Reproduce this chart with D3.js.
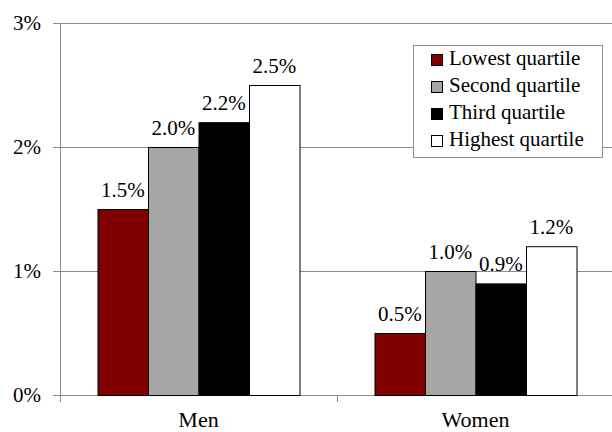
<!DOCTYPE html>
<html>
<head>
<meta charset="utf-8">
<script src="https://cdn.jsdelivr.net/npm/d3@7"></script>
</head>
<body style="margin:0; background:#fff">
<script>
// chart data
var categories = ["Men", "Women"];
var quartiles = ["Lowest quartile", "Second quartile", "Third quartile", "Highest quartile"];
var menValues = [1.5, 2.0, 2.2, 2.5];
var womenValues = [0.5, 1.0, 0.9, 1.2];
var yTicks = [0, 1, 2, 3];
var colors = ["#800000", "#a6a6a6", "#000000", "#ffffff"];

var seriesValues = [menValues, womenValues];

var w = 612,
    h = 432,
    plotLeft = 60,
    plotRight = 614,
    plotTop = 23,
    plotBottom = 395;

var svg = d3.select("body")
            .append("svg")
            .attr("width", w)
            .attr("height", h);

// scales
var x0 = d3.scaleBand()
           .domain(categories)
           .range([plotLeft, plotRight])
           .padding(0);

var x1 = d3.scaleBand()
           .domain(quartiles)
           .range([37.5, x0.bandwidth() - 37.5])
           .padding(0);

var y = d3.scaleLinear()
          .domain([0, 3])
          .range([plotBottom, plotTop]);

// gridlines
svg.append("g")
   .selectAll("line")
   .data(yTicks)
   .enter()
   .append("line")
   .attr("x1", plotLeft - 7)
   .attr("x2", w)
   .attr("y1", function(d) { return y(d) + 0.5; })
   .attr("y2", function(d) { return y(d) + 0.5; })
   .attr("stroke", "#8c8c8c")
   .attr("stroke-width", 1);

// y axis line
svg.append("line")
   .attr("x1", plotLeft + 0.5)
   .attr("x2", plotLeft + 0.5)
   .attr("y1", plotTop)
   .attr("y2", plotBottom + 7)
   .attr("stroke", "#8c8c8c");

// category separator tick
svg.append("line")
   .attr("x1", x0("Women") + 0.5)
   .attr("x2", x0("Women") + 0.5)
   .attr("y1", plotBottom)
   .attr("y2", plotBottom + 7)
   .attr("stroke", "#8c8c8c");

// y tick labels
svg.append("g")
   .selectAll("text")
   .data(yTicks)
   .enter()
   .append("text")
   .attr("x", 41)
   .attr("y", function(d) { return y(d) + 7; })
   .attr("text-anchor", "end")
   .attr("font-family", "Liberation Serif")
   .attr("font-size", 21)
   .text(function(d) { return d + "%"; });

// bars
var groups = svg.selectAll(".group")
                .data(categories)
                .enter()
                .append("g")
                .attr("class", "group")
                .attr("transform", function(d) { return "translate(" + x0(d) + ",0)"; });

groups.selectAll("rect")
      .data(function(d, i) {
          return seriesValues[i].map(function(v, j) { return {q: quartiles[j], v: v, c: colors[j]}; });
      })
      .enter()
      .append("rect")
      .attr("x", function(d) { return x1(d.q) + 0.5; })
      .attr("y", function(d) { return y(d.v) + 0.5; })
      .attr("width", x1.bandwidth())
      .attr("height", function(d) { return plotBottom - y(d.v); })
      .attr("fill", function(d) { return d.c; })
      .attr("stroke", "#000")
      .attr("stroke-width", 1);

// value labels
groups.selectAll(".val")
      .data(function(d, i) {
          return seriesValues[i].map(function(v, j) { return {q: quartiles[j], v: v}; });
      })
      .enter()
      .append("text")
      .attr("class", "val")
      .attr("x", function(d) { return x1(d.q) + x1.bandwidth() / 2; })
      .attr("y", function(d) { return y(d.v) - 12; })
      .attr("text-anchor", "middle")
      .attr("font-family", "Liberation Serif")
      .attr("font-size", 21)
      .text(function(d) { return d.v.toFixed(1) + "%"; });

// category labels
svg.append("g")
   .selectAll("text")
   .data(categories)
   .enter()
   .append("text")
   .attr("x", function(d) { return x0(d) + x0.bandwidth() / 2; })
   .attr("y", 427)
   .attr("text-anchor", "middle")
   .attr("font-family", "Liberation Serif")
   .attr("font-size", 22)
   .text(function(d) { return d; });

// legend
var legend = svg.append("g")
                .attr("transform", "translate(413,45)");

legend.append("rect")
      .attr("x", 0.5)
      .attr("y", 0.5)
      .attr("width", 189)
      .attr("height", 112)
      .attr("fill", "#fff")
      .attr("stroke", "#8c8c8c");

var items = legend.selectAll(".item")
                  .data(quartiles)
                  .enter()
                  .append("g")
                  .attr("class", "item")
                  .attr("transform", function(d, i) { return "translate(0," + (15 + i * 27) + ")"; });

items.append("rect")
     .attr("x", 18.5)
     .attr("y", -5.5)
     .attr("width", 11)
     .attr("height", 11)
     .attr("fill", function(d, i) { return colors[i]; })
     .attr("stroke", "#000");

items.append("text")
     .attr("x", 36)
     .attr("y", 5)
     .attr("font-family", "Liberation Serif")
     .attr("font-size", 21)
     .text(function(d) { return d; });
</script>
</body>
</html>
